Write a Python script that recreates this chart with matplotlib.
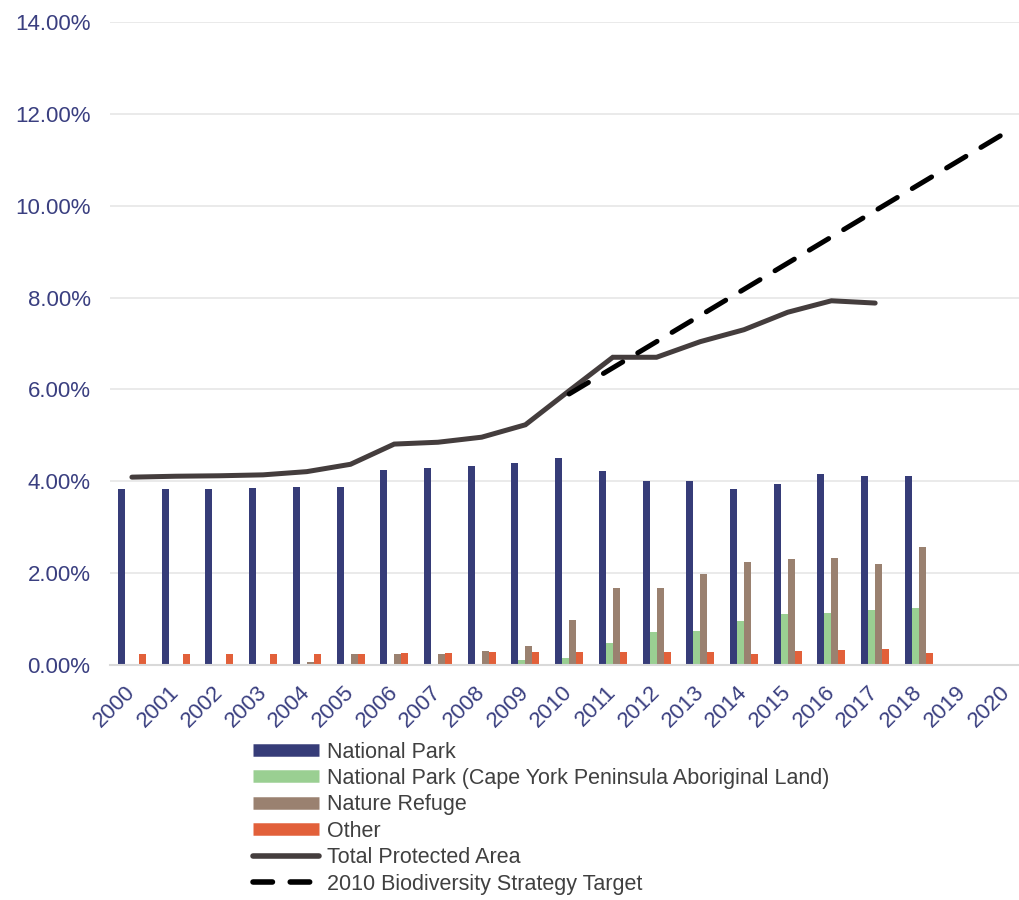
import numpy as np
import matplotlib.pyplot as plt
import matplotlib.transforms as mtransforms
from matplotlib.lines import Line2D

plt.rcParams['font.family'] = ['Liberation Sans', 'DejaVu Sans']

years = [str(y) for y in range(2000, 2021)]

national_park = [3.83, 3.84, 3.84, 3.85, 3.87, 3.88, 4.25, 4.30, 4.34, 4.40,
                 4.50, 4.22, 4.00, 4.00, 3.84, 3.94, 4.15, 4.11, 4.11, 0, 0]
cape_york = [0, 0.005, 0.005, 0, 0, 0, 0, 0, 0, 0.10,
             0.15, 0.49, 0.72, 0.75, 0.96, 1.11, 1.13, 1.19, 1.25, 0, 0]
nature_refuge = [0, 0.005, 0.005, 0.02, 0.07, 0.23, 0.25, 0.25, 0.31, 0.42,
                 0.98, 1.68, 1.68, 1.99, 2.24, 2.31, 2.32, 2.20, 2.56, 0, 0]
other = [0.24, 0.25, 0.25, 0.25, 0.25, 0.25, 0.27, 0.27, 0.28, 0.28,
         0.28, 0.28, 0.28, 0.28, 0.23, 0.30, 0.33, 0.35, 0.27, 0, 0]

total_years = years[:18]
total_area = [4.09, 4.11, 4.12, 4.14, 4.21, 4.37, 4.81, 4.85, 4.96, 5.23,
              5.97, 6.70, 6.70, 7.04, 7.30, 7.68, 7.93, 7.88]

target_years = years[10:]
target = [5.90, 6.47, 7.04, 7.61, 8.18, 8.75, 9.32, 9.89, 10.46, 11.03, 11.60]

c_np = '#363c78'
c_cy = '#9acf92'
c_nr = '#9a8170'
c_ot = '#e2603a'
c_total = '#443d3d'
c_label = '#3a3f80'
c_text = '#404040'

fig = plt.figure(figsize=(10.19, 9), dpi=100)
ax = fig.add_axes([0.108, 0.2611, 0.901, 0.7145])

x = np.arange(len(years))
w = 0.16
ax.bar(x - 1.5 * w, national_park, w, color=c_np, zorder=2)
ax.bar(x - 0.5 * w, cape_york, w, color=c_cy, zorder=2)
ax.bar(x + 0.5 * w, nature_refuge, w, color=c_nr, zorder=2)
ax.bar(x + 1.5 * w, other, w, color=c_ot, zorder=2)

ax.plot(np.arange(len(total_years)), total_area, color=c_total, lw=3.6,
        solid_capstyle='round', solid_joinstyle='miter', zorder=3)
ax.plot(np.arange(10, 10 + len(target_years)), target, color='black', lw=3.6,
        dashes=(4.5, 3.5), dash_capstyle='round', zorder=4)

ax.set_xlim(-0.5, len(years) - 0.5)
ax.set_ylim(0, 14)
ax.set_yticks(np.arange(0, 15, 2))
ax.set_yticklabels([f'{v:.2f}%' for v in np.arange(0, 15, 2)])
ax.set_xticks(x)
ax.set_xticklabels(years, rotation=45, ha='right', rotation_mode='anchor')
ax.tick_params(axis='y', length=0, pad=14, labelsize=16, labelcolor=c_label)
ax.tick_params(axis='x', length=0, pad=12, labelsize=16, labelcolor=c_label)

# nudge the rotated year labels a little to the left
shift = mtransforms.ScaledTranslation(-7 / 100, 0, fig.dpi_scale_trans)
for lbl in ax.get_xticklabels():
    lbl.set_transform(lbl.get_transform() + shift)

ax.grid(axis='y', color='#e6e6e6', lw=1.2, zorder=0)
ax.set_axisbelow(True)
for s in ['top', 'right', 'left']:
    ax.spines[s].set_visible(False)
ax.spines['bottom'].set_color('#d9d9d9')
ax.spines['bottom'].set_linewidth(1.5)

handles = [
    Line2D([], [], color=c_np, lw=9, solid_capstyle='butt'),
    Line2D([], [], color=c_cy, lw=9, solid_capstyle='butt'),
    Line2D([], [], color=c_nr, lw=9, solid_capstyle='butt'),
    Line2D([], [], color=c_ot, lw=9, solid_capstyle='butt'),
    Line2D([], [], color=c_total, lw=4, solid_capstyle='round'),
    Line2D([], [], color='black', lw=4, dashes=(3.5, 3.2), dash_capstyle='round'),
]
labels = ['National Park',
          'National Park (Cape York Peninsula Aboriginal Land)',
          'Nature Refuge',
          'Other',
          'Total Protected Area',
          '2010 Biodiversity Strategy Target']
leg = fig.legend(handles, labels, loc='upper left', bbox_to_anchor=(0.248, 0.176),
                 frameon=False, fontsize=15.5, handlelength=3.1, handletextpad=0.35,
                 labelspacing=0.25, borderaxespad=0, borderpad=0)
for t in leg.get_texts():
    t.set_color(c_text)

fig.savefig('out.png', dpi=100)
